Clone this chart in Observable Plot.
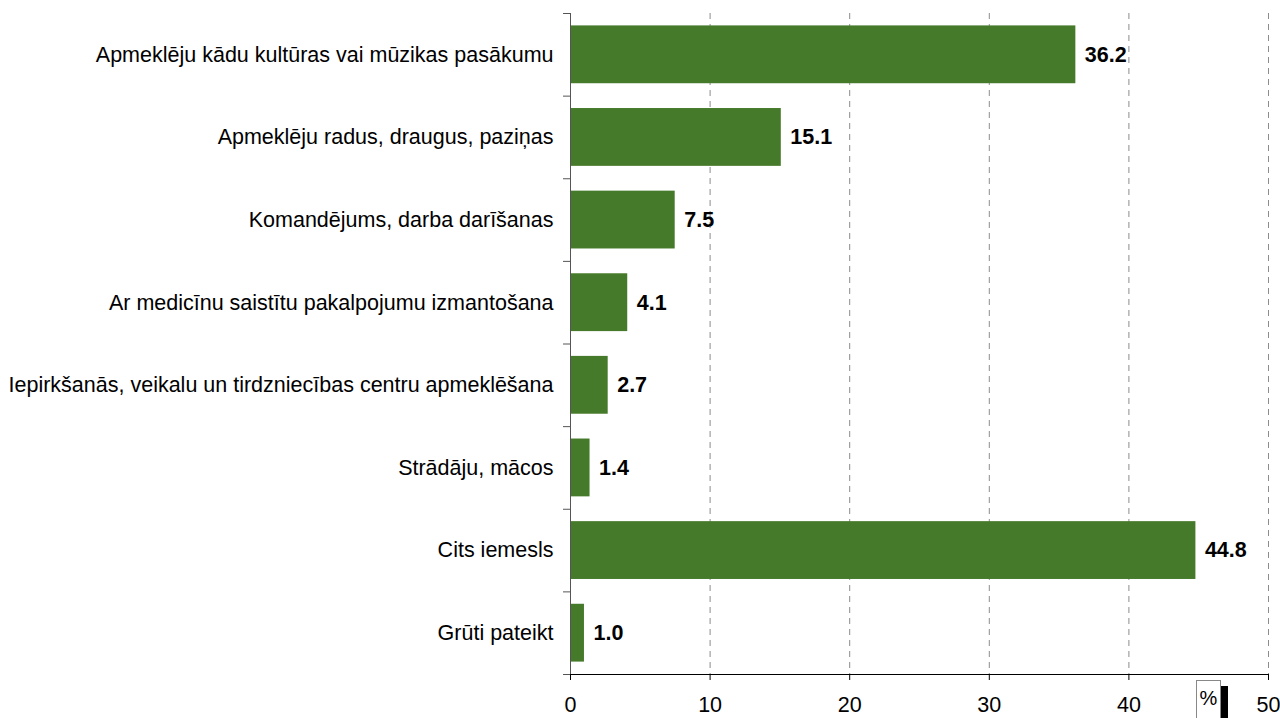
<!DOCTYPE html>
<html>
<head>
<meta charset="utf-8">
<script src="https://cdn.jsdelivr.net/npm/d3@7"></script>
<script src="https://cdn.jsdelivr.net/npm/@observablehq/plot@0.6"></script>
<style>
  html, body { margin: 0; padding: 0; background: #fff; }
  #wrap { position: relative; width: 1280px; height: 718px; font-family: "Liberation Sans", Arial, sans-serif; }
  #unit { position: absolute; left: 1196px; top: 680px; width: 25px; height: 38px; box-sizing: border-box;
          border: 1px solid #888; border-bottom: none; background: #fff; font-size: 20px; line-height: 34px; text-align: center; color: #000; }
  #unitShadow { position: absolute; left: 1221px; top: 686px; width: 7px; height: 32px; background: #000; }
</style>
</head>
<body>
<div id="wrap"></div>
<script>
const categories = [
  "Apmeklēju kādu kultūras vai mūzikas pasākumu",
  "Apmeklēju radus, draugus, paziņas",
  "Komandējums, darba darīšanas",
  "Ar medicīnu saistītu pakalpojumu izmantošana",
  "Iepirkšanās, veikalu un tirdzniecības centru apmeklēšana",
  "Strādāju, mācos",
  "Cits iemesls",
  "Grūti pateikt"
];
const values = [36.2, 15.1, 7.5, 4.1, 2.7, 1.4, 44.8, 1.0];
const xTicks = [0, 10, 20, 30, 40, 50];
const unitLabel = "%";

const data = categories.map((c, i) => ({category: c, value: values[i], i}));
const n = categories.length;
const green = "#467A2B";
const fs = 21.5;

const chart = Plot.plot({
  width: 1280,
  height: 718,
  marginLeft: 570,
  marginRight: 12,
  marginTop: 13,
  marginBottom: 44,
  style: {fontFamily: "'Liberation Sans', Arial, sans-serif", fontSize: fs + "px", color: "#000", background: "#fff"},
  x: {domain: [0, 50]},
  y: {domain: [0, n], reverse: true},
  marks: [
    Plot.gridX(xTicks.filter(d => d > 0), {stroke: "#8c8c8c", strokeOpacity: 1, strokeDasharray: "6,5"}),
    Plot.rectX(data, {x1: 0, x2: "value", y1: d => d.i + 0.15, y2: d => d.i + 0.85, fill: green}),
    Plot.text(data, {x: "value", y: d => d.i + 0.5, text: d => d.value.toFixed(1), textAnchor: "start", dx: 9, fontWeight: "bold", fontSize: fs, fill: "#000"}),
    Plot.axisY(d3.range(n + 1), {tickSize: 7, tickFormat: () => "", stroke: "#555"}),
    Plot.axisY(d3.range(n).map(i => i + 0.5), {tickSize: 0, tickPadding: 17, tickFormat: d => categories[Math.floor(d)], fontSize: fs, fill: "#000"}),
    Plot.ruleX([0], {stroke: "#555"}),
    Plot.ruleY([n], {stroke: "#000"}),
    Plot.axisX(xTicks, {tickSize: 6, tickPadding: 16, stroke: "#000", fontSize: fs, fill: "#000", label: null})
  ]
});

const wrap = document.getElementById("wrap");
wrap.appendChild(chart);
const shadow = document.createElement("div");
shadow.id = "unitShadow";
wrap.appendChild(shadow);
const unit = document.createElement("div");
unit.id = "unit";
unit.textContent = unitLabel;
wrap.appendChild(unit);
</script>
</body>
</html>
